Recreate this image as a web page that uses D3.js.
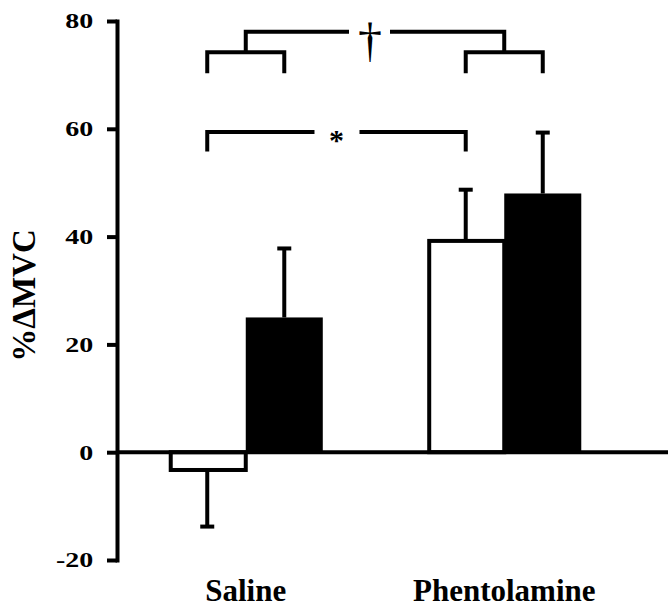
<!DOCTYPE html>
<html>
<head>
<meta charset="utf-8">
<script src="https://cdn.jsdelivr.net/npm/d3@7"></script>
<style>
  html, body { margin: 0; padding: 0; background: #fff; }
  svg { display: block; }
  text { font-family: "Liberation Serif", "Times New Roman", serif; fill: #000; }
</style>
</head>
<body>
<svg id="chart" width="668" height="608"></svg>
<script>
// ---- data ----
const groups = ["Saline", "Phentolamine"];
const series = ["open", "filled"];
const openMeans = [-3.3, 39.2];
const openSE = [10.5, 9.5];
const filledMeans = [25.0, 48.0];
const filledSE = [12.8, 11.3];
const yTicks = [-20, 0, 20, 40, 60, 80];
const yLabel = "%\u0394MVC";
// significance annotations (data units)
const daggerSymbol = "\u2020";
const starSymbol = "*";
const topBracketLevel = 78;
const pairBracketLevel = 74.2;
const pairLegLevel = 70.3;
const starBracketLevel = 59.4;
const starLegLevel = 55.8;

// ---- layout ----
const svg = d3.select("#chart");
const y = d3.scaleLinear().domain([-20, 80]).range([560, 21]);
const x0 = d3.scaleBand().domain(groups).range([116, 634])
  .paddingInner(0.404).paddingOuter(0.204);
const x1 = d3.scaleBand().domain(series).range([0, x0.bandwidth()]);

const rows = [];
groups.forEach((g, i) => {
  rows.push({ g, s: "open", v: openMeans[i], e: openSE[i] });
  rows.push({ g, s: "filled", v: filledMeans[i], e: filledSE[i] });
});
const cx = d => x0(d.g) + x1(d.s) + x1.bandwidth() / 2;
const cxOf = (g, s) => x0(g) + x1(s) + x1.bandwidth() / 2;

// bars
svg.append("g").selectAll("rect").data(rows).join("rect")
  .attr("x", d => x0(d.g) + x1(d.s) + (d.s === "open" ? 2 : 0))
  .attr("width", d => x1.bandwidth() - (d.s === "open" ? 2 : 0))
  .attr("y", d => y(Math.max(0, d.v)))
  .attr("height", d => Math.abs(y(d.v) - y(0)))
  .attr("fill", d => d.s === "open" ? "#fff" : "#000")
  .attr("stroke", "#000")
  .attr("stroke-width", d => d.s === "open" ? 4 : 0);

// error bars (one-sided, outward)
const eg = svg.append("g").attr("stroke", "#000");
eg.selectAll("line.stem").data(rows).join("line").attr("class", "stem")
  .attr("x1", cx).attr("x2", cx)
  .attr("y1", d => y(d.v))
  .attr("y2", d => y(d.v >= 0 ? d.v + d.e : d.v - d.e))
  .attr("stroke-width", 4);
eg.selectAll("line.cap").data(rows).join("line").attr("class", "cap")
  .attr("x1", d => cx(d) - 7).attr("x2", d => cx(d) + 7)
  .attr("y1", d => y(d.v >= 0 ? d.v + d.e : d.v - d.e))
  .attr("y2", d => y(d.v >= 0 ? d.v + d.e : d.v - d.e))
  .attr("stroke-width", 4);

// zero line
svg.append("line")
  .attr("x1", 116).attr("x2", 668)
  .attr("y1", y(0)).attr("y2", y(0))
  .attr("stroke", "#000").attr("stroke-width", 4);

// y axis
const ax = svg.append("g").attr("transform", "translate(117,0)")
  .call(d3.axisLeft(y).tickValues(yTicks).tickFormat(d => String(d))
    .tickSize(10).tickSizeOuter(0).tickPadding(0));
ax.select(".domain").attr("stroke-width", 4).attr("stroke-linecap", "square");
ax.selectAll(".tick line").attr("stroke-width", 4);
ax.selectAll(".tick text")
  .attr("x", -17)
  .attr("transform", "scale(1.4,1)")
  .attr("dy", "0.34em")
  .style("font-size", "20px").style("font-weight", "bold")
  .style("font-family", "'Liberation Serif', 'Times New Roman', serif");

// y title
svg.append("text")
  .attr("transform", `translate(35,${(y(-20) + y(80)) / 2 + 5}) rotate(-90)`)
  .attr("text-anchor", "middle")
  .style("font-size", "33px").style("font-weight", "bold")
  .text(yLabel);

// group labels
svg.append("g").selectAll("text").data(groups).join("text")
  .attr("x", g => x0(g) + x0.bandwidth() / 2)
  .attr("y", 601)
  .attr("text-anchor", "middle")
  .style("font-size", "31px").style("font-weight", "bold")
  .text(g => g);

// brackets
const bg = svg.append("g").attr("fill", "none").attr("stroke", "#000").attr("stroke-width", 4);
const pairMid = g => (cxOf(g, "open") + cxOf(g, "filled")) / 2;
groups.forEach(g => {
  bg.append("path").attr("d", d3.line()([
    [cxOf(g, "open"), y(pairLegLevel)], [cxOf(g, "open"), y(pairBracketLevel)],
    [cxOf(g, "filled"), y(pairBracketLevel)], [cxOf(g, "filled"), y(pairLegLevel)]
  ]));
});
// top dagger bracket with gap
const tL = pairMid(groups[0]), tR = pairMid(groups[1]);
const dagX = (tL + tR) / 2 - 5;
bg.append("path").attr("d", d3.line()([
  [tL, y(pairBracketLevel)], [tL, y(topBracketLevel)], [dagX - 21, y(topBracketLevel)]
]));
bg.append("path").attr("d", d3.line()([
  [dagX + 20, y(topBracketLevel)], [tR, y(topBracketLevel)], [tR, y(pairBracketLevel)]
]));
svg.append("text").attr("x", dagX).attr("y", y(topBracketLevel) + 24)
  .attr("text-anchor", "middle").style("font-size", "48px")
  .text(daggerSymbol);
// star bracket with gap
const sL = cxOf(groups[0], "open"), sR = cxOf(groups[1], "open");
const starX = (sL + sR) / 2;
bg.append("path").attr("d", d3.line()([
  [sL, y(starLegLevel)], [sL, y(starBracketLevel)], [starX - 22, y(starBracketLevel)]
]));
bg.append("path").attr("d", d3.line()([
  [starX + 23, y(starBracketLevel)], [sR, y(starBracketLevel)], [sR, y(starLegLevel)]
]));
svg.append("text").attr("x", starX).attr("y", y(starBracketLevel) + 18)
  .attr("text-anchor", "middle").style("font-size", "30px").style("font-weight", "bold")
  .text(starSymbol);
</script>
</body>
</html>
